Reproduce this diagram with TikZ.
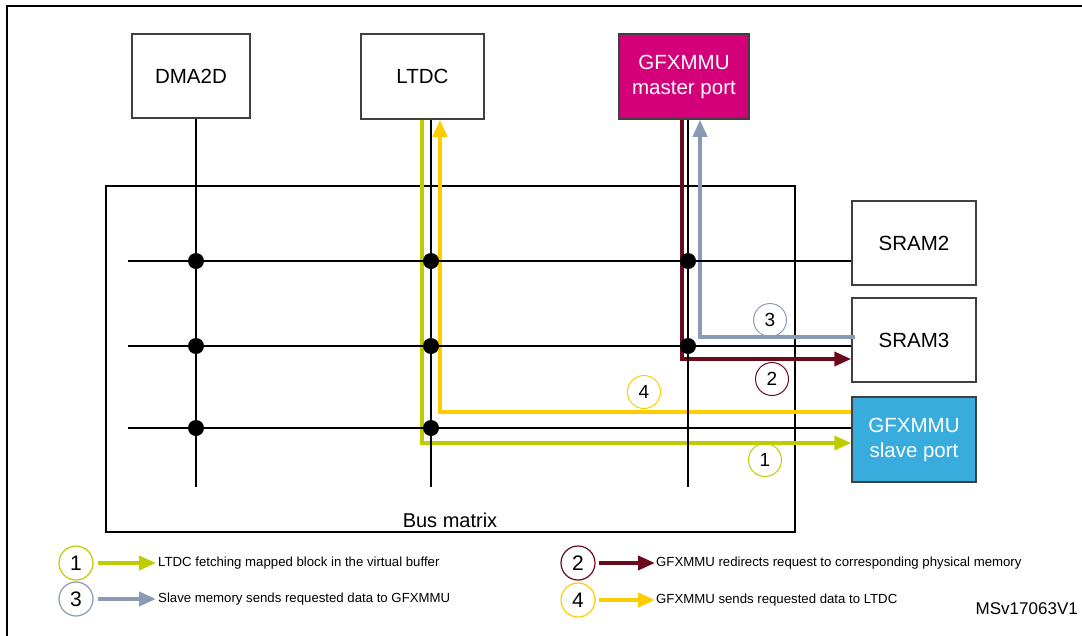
\documentclass[tikz,border=0pt]{standalone}
\usepackage{fontspec}
\setmainfont{Liberation Sans}
\usetikzlibrary{arrows.meta,calc}
\definecolor{gmag}{HTML}{D4007A}
\definecolor{gblue}{HTML}{38ACDD}
\definecolor{cgreen}{HTML}{BFCC00}
\definecolor{cred}{HTML}{6B0A1A}
\definecolor{cgray}{HTML}{8A9AB5}
\definecolor{cyellow}{HTML}{FFCC00}
\definecolor{bordergray}{HTML}{404040}
\tikzset{
  blk/.style={draw=bordergray,line width=1.5pt,minimum width=124pt,minimum height=84pt,inner sep=0pt,align=center,font=\fontsize{20.5}{25}\selectfont},
  bus/.style={black,line width=2.2pt},
  dotj/.style={black},
  flow/.style={line width=3.8pt,-{Triangle[length=17pt,width=14pt]}},
  num/.style={circle,draw,line width=1pt,minimum size=33pt,inner sep=0pt,font=\fontsize{19}{19}\selectfont},
  lnum/.style={circle,draw,line width=1.2pt,minimum size=34pt,inner sep=0pt,font=\fontsize{21}{21}\selectfont},
  ltext/.style={anchor=west,inner sep=0pt,font=\fontsize{13.2}{15}\selectfont},
}
\begin{document}
\begin{tikzpicture}[x=1pt,y=-1pt]
\useasboundingbox (0,0) rectangle (1082,635);
% outer frame
\draw[line width=2.6pt] (7,645) -- (7,6) -- (1095,6);

% blocks
\node[blk,minimum width=118pt] (dma) at (191,76) {DMA2D};
\node[blk,minimum width=123pt,minimum height=85pt] (ltdc) at (422.5,76.5) {LTDC};
\node[blk,fill=gmag,text=white,minimum width=130pt,minimum height=85pt] (master) at (684,76.5) {GFXMMU\\master port};
\node[blk] (sram2) at (914,243) {SRAM2};
\node[blk] (sram3) at (914,340) {SRAM3};
\node[blk,fill=gblue,text=white,minimum height=85pt] (slave) at (914,439.5) {GFXMMU\\slave port};

% bus matrix frame
\node[draw=black,line width=2pt,minimum width=689pt,minimum height=346pt,inner sep=0pt] (busm) at (450.5,359) {};
\node[font=\fontsize{20}{20}\selectfont,inner sep=0pt] (buslabel) at (450,520) {Bus matrix};

% bus coordinates
\coordinate (h1) at (128,261);
\coordinate (h2) at (128,346);
\coordinate (h3) at (128,428);
\coordinate (v1) at (196,487);
\coordinate (v2) at (431,487);
\coordinate (v3) at (688,487);

% coloured flows
\draw[flow,cgreen] ([xshift=-0.5pt]ltdc.south) |- ([yshift=-3.5pt]slave.west);
\draw[flow,cyellow] ([yshift=27.5pt]slave.west) -| ([xshift=17.5pt]ltdc.south);
\draw[flow,cred] ([xshift=-2pt]master.south) |- ([yshift=-19pt]sram3.west);
\draw[flow,cgray] ([yshift=3pt,xshift=4pt]sram3.west) -| ([xshift=16pt]master.south);

% black bus lines
\draw[bus] (h1) -- (h1 -| sram2.west);
\draw[bus] (h2) -- (h2 -| sram3.west);
\draw[bus] (h3) -- (h3 -| slave.west);
\draw[bus] (v1 |- dma.south) -- (v1);
\draw[bus] (v2 |- ltdc.south) -- (v2);
\draw[bus] (v3 |- master.south) -- (v3);

% junction dots
\foreach \v/\h in {v1/h1,v1/h2,v1/h3,v2/h1,v2/h2,v2/h3,v3/h1,v3/h2}
  \fill[dotj] (\v |- \h) circle[radius=8pt];

% circled numbers in the diagram
\node[num,draw=cgray] (n3) at (770,320) {3};
\node[num,draw=cred] (n2) at (772,379) {2};
\node[num,draw=cyellow] (n4) at (644,392) {4};
\node[num,draw=cgreen] (n1) at (765,460) {1};

% legend
\node[lnum,draw=cgreen] (l1) at (76,563) {1};
\node[lnum,draw=cgray] (l3) at (76,599) {3};
\node[lnum,draw=cred] (l2) at (578,563) {2};
\node[lnum,draw=cyellow] (l4) at (578,600) {4};
\node[ltext] (t1) at (158,563) {LTDC fetching mapped block in the virtual buffer};
\node[ltext] (t3) at (158,599) {Slave memory sends requested data to GFXMMU};
\node[ltext] (t2) at (656,563) {GFXMMU redirects request to corresponding physical memory};
\node[ltext] (t4) at (656,600) {GFXMMU sends requested data to LTDC};
\draw[flow,cgreen] ([xshift=4pt]l1.east) -- ([xshift=-2pt]t1.west);
\draw[flow,cgray] ([xshift=4pt]l3.east) -- ([xshift=-2pt]t3.west);
\draw[flow,cred] ([xshift=3pt]l2.east) -- ([xshift=-1pt]t2.west);
\draw[flow,cyellow] ([xshift=3pt]l4.east) -- ([xshift=-1pt]t4.west);
\node[anchor=east,inner sep=0pt,font=\fontsize{17}{17}\selectfont] (ms) at (1078,609) {MSv17063V1};
\end{tikzpicture}
\end{document}
